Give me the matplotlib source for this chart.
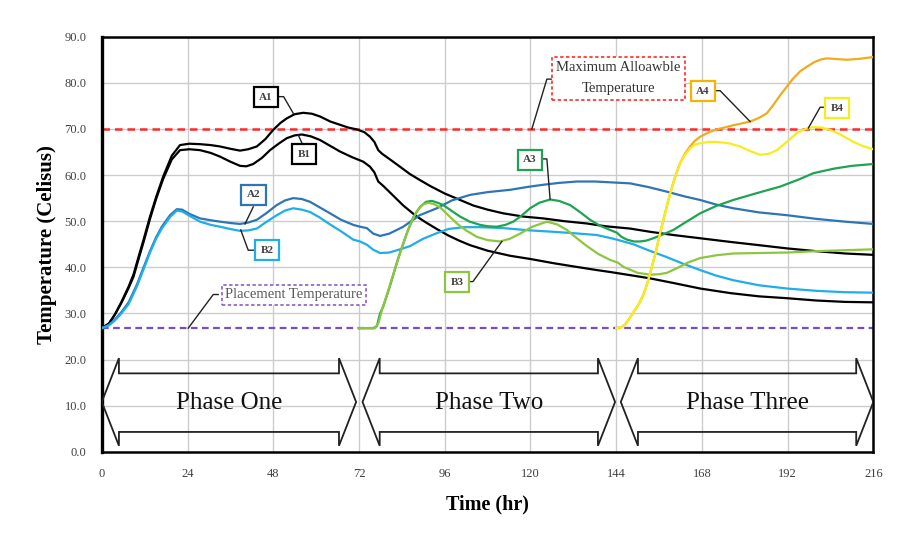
import matplotlib
matplotlib.use("Agg")
import matplotlib.pyplot as plt
from matplotlib.patches import Polygon

plt.rcParams['font.family'] = ['Liberation Serif', 'DejaVu Serif']

# ---- data (time in hr, temperature in C) ----
a1_t = [0, 2, 3.7, 5.5, 7.5, 8.9, 10.3, 11.7, 13.5, 15.2, 17.2, 19.6, 21.9, 24.5, 27.5, 30.5, 33.1, 36, 38.7,
        41, 43.4, 45.8, 48, 50, 51.8, 54, 56.4, 58.8, 61.1, 64, 66.7, 69, 71.4, 73.5, 75.1, 76.3, 77.4,
        78.5, 80.5, 83.5, 86.3, 89.1, 92, 96, 100.3, 104, 108, 112.4, 118, 123.6, 129.5, 135.8, 141,
        147.9, 153.5, 160, 167.5, 176, 184, 191.8, 200, 208, 216]
a1_v = [26.8, 27.8, 29.8, 32.5, 35.8, 38.5, 42.3, 46, 51, 55.2, 59.7, 64.2, 66.5, 66.8, 66.7, 66.5, 66.2, 65.7, 65.3,
        65.6, 66.2, 67.8, 69.8, 71.3, 72.3, 73.2, 73.5, 73.3, 72.7, 71.6, 70.9, 70.3, 69.9, 69.3, 68.3, 67.2, 65.4,
        64.6, 63.5, 61.8, 60.2, 58.9, 57.6, 56, 54.6, 53.4, 52.5, 51.7, 51.0, 50.6, 50.0, 49.5, 48.9,
        48.4, 47.7, 47.0, 46.3, 45.5, 44.8, 44.1, 43.5, 43.0, 42.7]

b1_t = [0, 2, 3.7, 5.5, 7.5, 8.9, 10.3, 11.7, 13.5, 15.2, 17.2, 19.6, 21.9, 24.5, 27.5, 30.5, 33.1, 36, 38.7,
        40.5, 42.4, 44.8, 47.1, 49.5, 51.8, 54, 56, 58.5, 61.1, 64, 66.7, 70, 73.2, 75.1, 76.3, 77.4,
        79, 81.5, 84.4, 88, 91, 93.8, 97, 100, 103.1, 108, 114.3, 120, 126.4, 132, 138.6, 143,
        147.9, 153.5, 160, 167.5, 176, 184, 191.8, 200, 208, 216]
b1_v = [26.8, 27.8, 29.8, 32.3, 35.5, 38.0, 41.8, 45.5, 50.5, 54.8, 59.2, 63.4, 65.4, 65.6, 65.4, 64.8, 64.0, 62.9, 62.0,
        61.9, 62.4, 63.7, 65.4, 66.8, 68.0, 68.6, 68.8, 68.4, 67.6, 66.3, 65.1, 63.9, 62.9, 61.8, 60.6, 58.6,
        57.5, 55.6, 53.4, 51.1, 49.6, 48.3, 46.9, 45.8, 44.8, 43.6, 42.5, 41.8, 40.9, 40.2, 39.4, 38.9,
        38.3, 37.6, 36.6, 35.4, 34.4, 33.7, 33.3, 32.8, 32.5, 32.4]

a2_t = [0, 2, 3.7, 5.5, 7.5, 9.8, 11.7, 13.5, 15.2, 16.8, 19.1, 21, 22.5, 24.5, 27.5, 30.5, 33.1, 36, 38.7,
        41, 43.4, 46, 49, 51.3, 53.6, 56, 58.3, 61, 63.9, 67, 70.4, 72.3, 74.2, 76, 77.9, 80.5, 84.4,
        89, 93.8, 98, 103.1, 108, 114.3, 119, 123.6, 128, 133, 138, 143, 147.9, 153, 158.2, 163,
        167.5, 172, 176.8, 184, 191.8, 200, 208, 216]
a2_v = [26.8, 27.5, 28.7, 30.3, 32.4, 36.2, 40.0, 43.5, 46.5, 48.8, 51.3, 52.6, 52.5, 51.6, 50.6, 50.2, 49.9, 49.6, 49.4,
        49.7, 50.3, 51.7, 53.5, 54.5, 55.0, 54.8, 54.2, 53.0, 51.7, 50.3, 49.2, 48.8, 48.5, 47.3, 46.8, 47.3, 48.8,
        51.3, 52.8, 54.5, 55.7, 56.3, 56.8, 57.4, 57.9, 58.3, 58.6, 58.6, 58.4, 58.2, 57.4, 56.4, 55.4,
        54.6, 53.6, 52.8, 51.9, 51.3, 50.5, 49.9, 49.4]

b2_t = [0, 2, 3.7, 5.5, 7.5, 9.8, 11.7, 13.5, 15.2, 16.8, 19.1, 21, 22.5, 24.5, 27.5, 30.5, 33.1, 36, 38.7,
        41, 43.4, 46, 49, 51.3, 53.6, 56, 58.3, 61, 63.9, 67, 70.4, 72.3, 74.2, 76, 77.9, 80.5, 83.5,
        86.3, 90, 93.8, 97, 101.2, 106, 112.4, 119.9, 126.4, 132, 138.6, 141.5, 144.2, 148.8, 153,
        158.2, 163, 167.5, 172, 176.8, 184, 191.8, 200, 208, 216]
b2_v = [26.8, 27.4, 28.5, 30.0, 32.0, 35.8, 39.6, 43.2, 46.2, 48.4, 50.9, 52.3, 52.1, 51.2, 49.9, 49.2, 48.8, 48.3, 47.9,
        48.0, 48.4, 49.8, 51.3, 52.3, 52.8, 52.5, 52.0, 50.8, 49.3, 47.8, 46.0, 45.6, 44.9, 43.8, 43.1, 43.2, 43.9,
        44.6, 46.2, 47.4, 48.3, 48.7, 48.7, 48.5, 48.0, 47.7, 47.4, 47.0, 46.5, 46.0, 45.0, 43.7,
        42.2, 40.7, 39.4, 38.2, 37.2, 36.1, 35.4, 34.9, 34.6, 34.5]

a3_t = [72, 76, 77, 77.9, 78.8, 80.7, 83, 85.4, 87.3, 89.1, 90.8, 92.4, 94, 95.6, 98, 100.3, 103, 105.9,
        108, 110.6, 113, 115.2, 117.5, 119.9, 122.5, 125.5, 128, 131.1, 134, 136.7, 139.5, 142.3, 144.2,
        145.5, 147, 149, 150.7, 152.5, 154.4, 157, 160, 163.5, 167.5, 172, 176.8, 183, 189.9, 195,
        199.2, 205, 210, 216]
a3_v = [26.8, 26.8, 27.2, 30.0, 31.5, 36.0, 42.0, 47.4, 51.0, 53.1, 54.2, 54.4, 54.0, 53.5, 52.2, 51.0, 49.9, 49.2,
        48.9, 48.8, 49.2, 49.9, 51.2, 52.8, 54.0, 54.7, 54.4, 53.5, 51.9, 50.3, 49.0, 48.1, 47.5,
        46.6, 46.0, 45.6, 45.6, 45.8, 46.3, 47.1, 48.1, 49.8, 51.7, 53.3, 54.6, 56.0, 57.5, 59.0,
        60.4, 61.4, 62.0, 62.4]

b3_t = [72, 76.5, 77.5, 78.5, 79.8, 82, 84.4, 86.3, 88.2, 89.8, 91.4, 93, 94.7, 97, 99.4, 102, 105, 108,
        111.5, 114.3, 117.1, 120.5, 124.6, 127.5, 130.2, 133, 135.8, 139, 142.3, 144.5, 146, 147.9, 150,
        153.5, 156, 158.2, 161, 164, 167.5, 172, 176.8, 184, 191.8, 200, 208, 216]
b3_v = [26.8, 26.8, 28.0, 31.0, 34.0, 39.5, 45.2, 49.2, 52.2, 53.6, 54.0, 53.7, 53.0, 51.3, 49.5, 48.0, 46.6, 45.9,
        45.6, 46.2, 47.3, 48.8, 49.9, 49.3, 48.1, 46.3, 44.6, 42.9, 41.6, 41.0, 40.1, 39.5, 38.8,
        38.4, 38.5, 38.8, 39.8, 41.0, 42.0, 42.6, 43.0, 43.1, 43.2, 43.5, 43.7, 43.9]

a4_t = [144, 145.5, 146.5, 147.8, 148.8, 150.3, 151.6, 152.6, 153.5, 155, 156.3, 157.7, 159.1, 160.5, 161.9,
        163.3, 164.7, 166, 167.5, 170, 172.2, 176.8, 181.5, 184, 186.2, 188, 189.9, 191.8, 193.5, 195.5,
        197.4, 199.5, 201.5, 203, 205, 208.6, 212, 216]
a4_v = [26.8, 27.0, 27.6, 29.0, 30.2, 32.0, 34.0, 36.2, 38.7, 43.0, 47.4, 51.8, 56.0, 59.6, 62.6,
        64.7, 66.2, 67.4, 68.3, 69.3, 69.9, 70.8, 71.6, 72.4, 73.4, 75.2, 77.3, 79.2, 80.9, 82.5,
        83.5, 84.5, 85.1, 85.3, 85.2, 85.0, 85.2, 85.6]

b4_t = [144, 145.5, 146.5, 147.8, 148.8, 150.3, 151.6, 152.6, 153.5, 155, 156.3, 157.7, 159.1, 160.5, 161.9,
        163.3, 164.7, 166, 167.5, 170, 172.2, 175.5, 178.7, 181.5, 184.3, 186.7, 189, 191.8, 194.6, 197,
        199.2, 201.5, 203.9, 207, 210.4, 213, 216]
b4_v = [26.8, 27.0, 27.6, 29.0, 30.2, 32.0, 34.0, 36.2, 38.7, 43.0, 47.4, 51.8, 56.0, 59.6, 62.6,
        64.4, 65.8, 66.6, 66.9, 67.2, 67.2, 66.9, 66.2, 65.2, 64.4, 64.6, 65.4, 67.2, 69.1, 70.0,
        70.4, 70.3, 69.8, 68.7, 67.2, 66.3, 65.6]

max_temp = 70.0
placement_temp = 26.8

phase_names = ["Phase One", "Phase Two", "Phase Three"]
phase_left = [0, 73, 145.3]
phase_right = [71.2, 143.7, 216]

fig = plt.figure(figsize=(9.17, 5.43), dpi=100)
ax = fig.add_axes([0.111, 0.168, 0.8414, 0.7644])

series = [
    (a1_t, a1_v, "black"), (b1_t, b1_v, "black"),
    (a2_t, a2_v, "#2e75b6"), (b2_t, b2_v, "#1eaee8"),
    (a3_t, a3_v, "#1fa353"), (b3_t, b3_v, "#8cc63f"),
    (a4_t, a4_v, "#f2aa1f"), (b4_t, b4_v, "#f7ec1c"),
]
for t, v, c in series:
    ax.plot(t, v, color=c, lw=1.6, zorder=3, solid_joinstyle="round")

ax.axhline(max_temp, color="#ff2a2a", lw=1.8, ls=(0, (3, 2)), zorder=2)
ax.axhline(placement_temp, color="#7a4bc2", lw=1.6, ls=(0, (3, 2)), zorder=2)

# phase arrows
head = 4.8
for name, x0, x1 in zip(phase_names, phase_left, phase_right):
    pts = [(x0, 10.8), (x0 + head, 20.3), (x0 + head, 17.0), (x1 - head, 17.0), (x1 - head, 20.3),
           (x1, 10.8), (x1 - head, 1.3), (x1 - head, 4.3), (x0 + head, 4.3), (x0 + head, 1.3)]
    ax.add_patch(Polygon(pts, closed=True, fill=False, ec="#222222", lw=1.3, zorder=4))
    ax.text((x0 + x1) / 2, 10.6, name, ha="center", va="center", fontsize=18, color="#111111", zorder=5)

# labels with leader lines
labels = [
    ("A1", 46.0, 76.9, "black", [(49.2, 77.0), (50.9, 77.0), (53.6, 73.4)]),
    ("B1", 56.6, 64.5, "black", [(56.0, 67.0), (55.0, 68.7)]),
    ("A2", 42.5, 55.7, "#2e75b6", [(42.4, 53.1), (40.1, 49.4)]),
    ("B2", 46.3, 43.7, "#1eaee8", [(43.2, 43.7), (41.0, 43.7), (38.9, 48.1)]),
    ("A3", 119.9, 63.3, "#1fa353", [(123.2, 63.5), (124.6, 63.5), (125.5, 54.8)]),
    ("B3", 99.5, 36.8, "#8cc63f", [(102.6, 36.9), (103.9, 36.9), (112.0, 45.6)]),
    ("A4", 168.3, 78.2, "#f5b400", [(171.7, 78.3), (173.1, 78.3), (181.5, 71.6)]),
    ("B4", 205.9, 74.5, "#f7ec1c", [(202.7, 74.7), (201.1, 74.7), (197.8, 70.2)]),
]
for txt, x, y, c, lead in labels:
    lx, ly = zip(*lead)
    ax.plot(lx, ly, color="#222222", lw=1.0, zorder=5)
    ax.text(x, y, txt, ha="center", va="center", fontsize=8, fontweight="bold", color="#404040", zorder=6,
            bbox=dict(boxstyle="square,pad=0.5", fc="white", ec=c, lw=1.6))

ax.plot([125.8, 124.6, 120.4], [80.8, 80.8, 70.0], color="#222222", lw=1.0, zorder=5)
ax.text(144.7, 81.0, "Maximum Alloawble\nTemperature", ha="center", va="center", fontsize=10.5,
        color="#333333", linespacing=1.8, zorder=6,
        bbox=dict(boxstyle="square,pad=0.3", fc="white", ec="#ff2a2a", lw=1.2, ls=(0, (2, 1.5))))

ax.plot([32.6, 31.2, 24.2], [34.1, 34.1, 26.8], color="#222222", lw=1.0, zorder=5)
ax.text(53.8, 34.0, "Placement Temperature", ha="center", va="center", fontsize=10.5,
        color="#595959", zorder=6,
        bbox=dict(boxstyle="square,pad=0.25", fc="white", ec="#8a5cc8", lw=1.2, ls=(0, (2, 1.5))))

ax.set_xlim(0, 216)
ax.set_ylim(0, 90)
ax.set_xticks(range(0, 217, 24))
ax.set_yticks(range(0, 91, 10))
ax.set_yticklabels([f"{v:.1f}" for v in range(0, 91, 10)])
ax.tick_params(length=0, labelsize=9, colors="#404040")
ax.tick_params(axis="x", pad=12)
ax.tick_params(axis="y", pad=11)
ax.grid(True, color="#cccccc", lw=1.0, zorder=0)
ax.set_axisbelow(True)
for s in ax.spines.values():
    s.set_color("black")
    s.set_linewidth(1.8)
ax.spines["left"].set_linewidth(2.4)

ax.set_xlabel("Time (hr)", fontsize=14.5, fontweight="bold", labelpad=10)
ax.set_ylabel("Temperature (Celisus)", fontsize=15, fontweight="bold", labelpad=5)

fig.savefig("out.png", dpi=100)
